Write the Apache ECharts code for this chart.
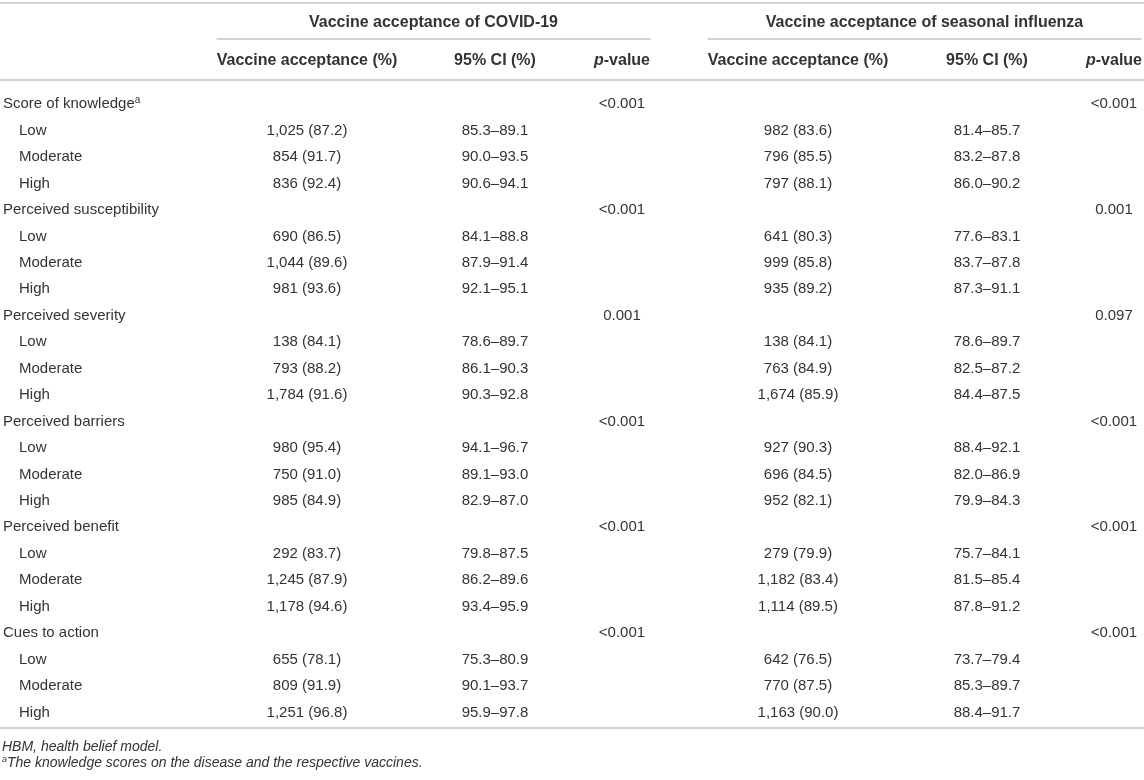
<!DOCTYPE html>
<html>
<head>
<meta charset="utf-8">
<title>Vaccine acceptance by HBM constructs</title>
<script src="https://cdn.jsdelivr.net/npm/echarts@6/dist/echarts.min.js"></script>
<style>
html, body { margin: 0; padding: 0; background: #fff; }
#main { width: 1144px; height: 780px; }
</style>
</head>
<body>
<div id="main"></div>
<script>
const factors = ['Score of knowledge', 'Perceived susceptibility', 'Perceived severity', 'Perceived barriers', 'Perceived benefit', 'Cues to action'];
const factorNotes = ['a', '', '', '', '', ''];
const levels = ['Low', 'Moderate', 'High'];
const groupTitles = ['Vaccine acceptance of COVID-19', 'Vaccine acceptance of seasonal influenza'];
const columnHeaders = ['Vaccine acceptance (%)', '95% CI (%)', 'p-value'];

// COVID-19, 3 levels per factor
const covidCount = [1025, 854, 836, 690, 1044, 981, 138, 793, 1784, 980, 750, 985, 292, 1245, 1178, 655, 809, 1251];
const covidPct = [87.2, 91.7, 92.4, 86.5, 89.6, 93.6, 84.1, 88.2, 91.6, 95.4, 91.0, 84.9, 83.7, 87.9, 94.6, 78.1, 91.9, 96.8];
const covidCiLow = [85.3, 90.0, 90.6, 84.1, 87.9, 92.1, 78.6, 86.1, 90.3, 94.1, 89.1, 82.9, 79.8, 86.2, 93.4, 75.3, 90.1, 95.9];
const covidCiHigh = [89.1, 93.5, 94.1, 88.8, 91.4, 95.1, 89.7, 90.3, 92.8, 96.7, 93.0, 87.0, 87.5, 89.6, 95.9, 80.9, 93.7, 97.8];
const covidP = ['<0.001', '<0.001', '0.001', '<0.001', '<0.001', '<0.001'];

// seasonal influenza
const fluCount = [982, 796, 797, 641, 999, 935, 138, 763, 1674, 927, 696, 952, 279, 1182, 1114, 642, 770, 1163];
const fluPct = [83.6, 85.5, 88.1, 80.3, 85.8, 89.2, 84.1, 84.9, 85.9, 90.3, 84.5, 82.1, 79.9, 83.4, 89.5, 76.5, 87.5, 90.0];
const fluCiLow = [81.4, 83.2, 86.0, 77.6, 83.7, 87.3, 78.6, 82.5, 84.4, 88.4, 82.0, 79.9, 75.7, 81.5, 87.8, 73.7, 85.3, 88.4];
const fluCiHigh = [85.7, 87.8, 90.2, 83.1, 87.8, 91.1, 89.7, 87.2, 87.5, 92.1, 86.9, 84.3, 84.1, 85.4, 91.2, 79.4, 89.7, 91.7];
const fluP = ['<0.001', '0.001', '0.097', '<0.001', '<0.001', '<0.001'];

const footnoteMarks = ['', 'a'];
const footnoteTexts = ['HBM, health belief model.', 'The knowledge scores on the disease and the respective vaccines.'];

const FONT = "'Liberation Sans', Arial, Helvetica, sans-serif";
const INK = '#333';
const rule = { color: '#c4c4c4', width: 1.5 };

// one row per factor, then its three levels
const rowKeys = [];
factors.forEach(f => {
    rowKeys.push(f);
    levels.forEach(l => rowKeys.push(f + ' / ' + l));
});

function fmtCount(n) {
    return String(n).replace(/\B(?=(\d{3})+(?!\d))/g, ',');
}

function groupCells(count, pct, lo, hi, p) {
    const acc = [], ci = [], pv = [];
    factors.forEach((f, fi) => {
        pv.push({ row: fi * 4, text: p[fi] });
        levels.forEach((l, li) => {
            const k = fi * 3 + li;
            acc.push({ row: fi * 4 + 1 + li, text: fmtCount(count[k]) + ' (' + pct[k].toFixed(1) + ')' });
            ci.push({ row: fi * 4 + 1 + li, text: lo[k].toFixed(1) + '\u2013' + hi[k].toFixed(1) });
        });
    });
    return [acc, ci, pv];
}

const labelCells = [];
factors.forEach((f, fi) => {
    labelCells.push({ row: fi * 4, indent: 0, text: '{t|' + f + '}' + (factorNotes[fi] ? '{s|' + factorNotes[fi] + '}' : '') });
    levels.forEach((l, li) => labelCells.push({ row: fi * 4 + 1 + li, indent: 16, text: '{t|' + l + '}' }));
});

const covidCols = groupCells(covidCount, covidPct, covidCiLow, covidCiHigh, covidP);
const fluCols = groupCells(fluCount, fluPct, fluCiLow, fluCiHigh, fluP);

const richCell = {
    t: { fontSize: 15, fontFamily: FONT, fill: INK, lineHeight: 18 },
    s: { fontSize: 10, fontFamily: FONT, fill: INK, lineHeight: 10, verticalAlign: 'top' }
};

const grids = [], xAxes = [], yAxes = [], series = [];

function ruleAxis(gridIndex, position, extra) {
    return Object.assign({
        gridIndex: gridIndex, type: 'value', min: 0, max: 1, position: position,
        axisLine: { show: true, onZero: false, lineStyle: rule },
        axisTick: { show: false }, axisLabel: { show: false }, splitLine: { show: false }
    }, extra || {});
}
function hiddenY(gridIndex) {
    return { gridIndex: gridIndex, type: 'value', min: 0, max: 1, show: false };
}

// rules: top / bottom, header separator, group underlines with titles
grids.push({ left: 0, right: 0, top: 3, bottom: 52 });
xAxes.push(ruleAxis(0, 'top'), ruleAxis(0, 'bottom'));
yAxes.push(hiddenY(0));

grids.push({ left: 0, right: 0, top: 80, bottom: 52 });
xAxes.push(ruleAxis(1, 'top'));
yAxes.push(hiddenY(1));

const groupSpans = [{ left: 217, width: 433 }, { left: 708, width: 433 }];
groupTitles.forEach((g, gi) => {
    const idx = grids.length;
    grids.push({ left: groupSpans[gi].left, width: groupSpans[gi].width, top: 39, bottom: 52 });
    xAxes.push(ruleAxis(idx, 'top', {
        name: g, nameLocation: 'middle', nameGap: 16,
        nameTextStyle: { fontFamily: FONT, fontSize: 16, fontWeight: 'bold', color: INK, verticalAlign: 'middle' }
    }));
    yAxes.push(hiddenY(idx));
});

// body columns
const bodyTop = 91, bodyBottom = 54.4;

function textSeries(xIndex, yIndex, cells, align) {
    return {
        type: 'custom',
        coordinateSystem: 'cartesian2d',
        xAxisIndex: xIndex, yAxisIndex: yIndex,
        data: cells.map(c => [0, c.row]),
        silent: true,
        renderItem: function (params, api) {
            const cell = cells[params.dataIndex];
            const pt = api.coord([api.value(0), api.value(1)]);
            return {
                type: 'text',
                x: align === 'left' ? params.coordSys.x + cell.indent : pt[0],
                y: pt[1],
                style: {
                    text: cell.text.indexOf('{') === 0 ? cell.text : '{t|' + cell.text + '}',
                    rich: richCell,
                    align: align,
                    verticalAlign: 'middle'
                }
            };
        }
    };
}

function addColumn(left, width, header, cells, align) {
    const idx = grids.length;
    const xi = xAxes.length, yi = yAxes.length;
    grids.push({ left: left, width: width, top: bodyTop, bottom: bodyBottom });
    xAxes.push({
        gridIndex: idx, type: 'category', data: [header], position: 'top',
        axisLine: { show: false }, axisTick: { show: false }, splitLine: { show: false },
        axisLabel: {
            show: header !== '', interval: 0, margin: 30, verticalAlign: 'middle',
            fontFamily: FONT, fontSize: 16, fontWeight: 'bold', color: INK,
            formatter: v => v === 'p-value' ? '{i|p}-value' : v,
            rich: { i: { fontFamily: FONT, fontSize: 16, fontWeight: 'bold', fontStyle: 'italic', color: INK } }
        }
    });
    yAxes.push({ gridIndex: idx, type: 'category', data: rowKeys, inverse: true, show: false });
    series.push(textSeries(xi, yi, cells, align));
}

addColumn(3, 200, '', labelCells, 'left');
const colLayout = [
    [{ left: 222, width: 170 }, { left: 435, width: 120 }, { left: 592, width: 60 }],
    [{ left: 713, width: 170 }, { left: 927, width: 120 }, { left: 1084, width: 60 }]
];
[covidCols, fluCols].forEach((cols, gi) => {
    cols.forEach((cells, ci) => {
        addColumn(colLayout[gi][ci].left, colLayout[gi][ci].width, columnHeaders[ci], cells, 'center');
    });
});

grids.forEach(g => { g.outerBoundsMode = 'none'; g.containLabel = false; });

const chart = echarts.init(document.getElementById('main'), null, { renderer: 'canvas' });
chart.setOption({
    animation: false,
    backgroundColor: '#fff',
    textStyle: { fontFamily: FONT, color: INK },
    title: footnoteTexts.map((t, i) => ({
        text: (footnoteMarks[i] ? '{s|' + footnoteMarks[i] + '}' : '') + '{i|' + t + '}',
        left: 2, top: 739 + i * 16, padding: 0,
        textStyle: {
            fontWeight: 'normal',
            rich: {
                i: { fontFamily: FONT, fontSize: 14, fontStyle: 'italic', fontWeight: 'normal', color: INK, lineHeight: 16 },
                s: { fontFamily: FONT, fontSize: 9, fontStyle: 'italic', fontWeight: 'normal', color: INK, lineHeight: 9, verticalAlign: 'top' }
            }
        }
    })),
    grid: grids,
    xAxis: xAxes,
    yAxis: yAxes,
    series: series
});
</script>
</body>
</html>
